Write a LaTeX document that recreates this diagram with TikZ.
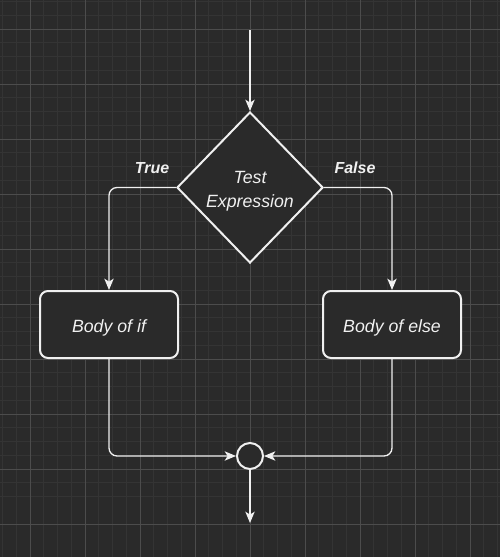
\documentclass[tikz,border=0pt]{standalone}
\usepackage{fontspec}
\setmainfont{Liberation Sans}
\usetikzlibrary{shapes.geometric,arrows.meta}
\definecolor{bg}{HTML}{2A2A2A}
\definecolor{gminor}{HTML}{343434}
\definecolor{gmajor}{HTML}{4C4C4C}
\definecolor{fg}{HTML}{F0F0F0}
\newcommand{\lowtext}[1]{\raisebox{-2.6pt}[\height][\depth]{\begin{tabular}{@{}c@{}}#1\end{tabular}}}
\tikzset{
  shapebox/.style={draw=fg, line width=1.5pt, fill=bg, text=fg, font=\itshape\fontsize{13.3}{18}\selectfont, align=center, inner sep=0pt},
  procbox/.style={shapebox, rectangle, rounded corners=6pt, minimum width=103.5pt, minimum height=50.25pt},
  decbox/.style={shapebox, diamond, minimum width=109.5pt, minimum height=113.25pt},
  joinbox/.style={draw=fg, line width=1.5pt, fill=bg, circle, minimum size=19.5pt, inner sep=0pt},
  conn/.style={draw=fg, line width=1pt, rounded corners=6pt, -{Stealth[length=8.5pt,width=7pt,inset=2.2pt]}},
  lbl/.style={text=fg, font=\bfseries\itshape\fontsize{12}{14}\selectfont, inner sep=0pt}
}
\begin{document}
\begin{tikzpicture}[x=0.75pt,y=-0.75pt]
\fill[bg] (0,0) rectangle (500,557);
\useasboundingbox (0,0) rectangle (500,557);
\foreach \i in {0,...,36} {
  \draw[gminor, line width=0.6pt] ({2.5+13.75*\i},0) -- ({2.5+13.75*\i},557);
  \draw[gminor, line width=0.6pt] (0,{1.5+13.75*\i}) -- (500,{1.5+13.75*\i});
}
\foreach \i in {0,...,9} {
  \draw[gmajor, line width=0.6pt] ({30+55*\i},0) -- ({30+55*\i},557);
  \draw[gmajor, line width=0.6pt] (0,{29+55*\i}) -- (500,{29+55*\i});
}
\node[decbox] (d) at (250,187.5) {\lowtext{Test\\Expression}};
\node[procbox] (bif) at (109,324.5) {\lowtext{Body of if}};
\node[procbox] (belse) at (392,324.5) {\lowtext{Body of else}};
\node[joinbox] (c) at (250,456) {};
\coordinate (start) at (250,30);
\coordinate (end) at (250,523);
\node[lbl] (t) at (152,168) {True};
\node[lbl] (f) at (355,168) {False};
\draw[conn] (start) -- (d.north);
\draw[conn] (d.west) -| (bif.north);
\draw[conn] (d.east) -| (belse.north);
\draw[conn] (bif.south) |- (c.west);
\draw[conn] (belse.south) |- (c.east);
\draw[conn] (c.south) -- (end);
\end{tikzpicture}
\end{document}
